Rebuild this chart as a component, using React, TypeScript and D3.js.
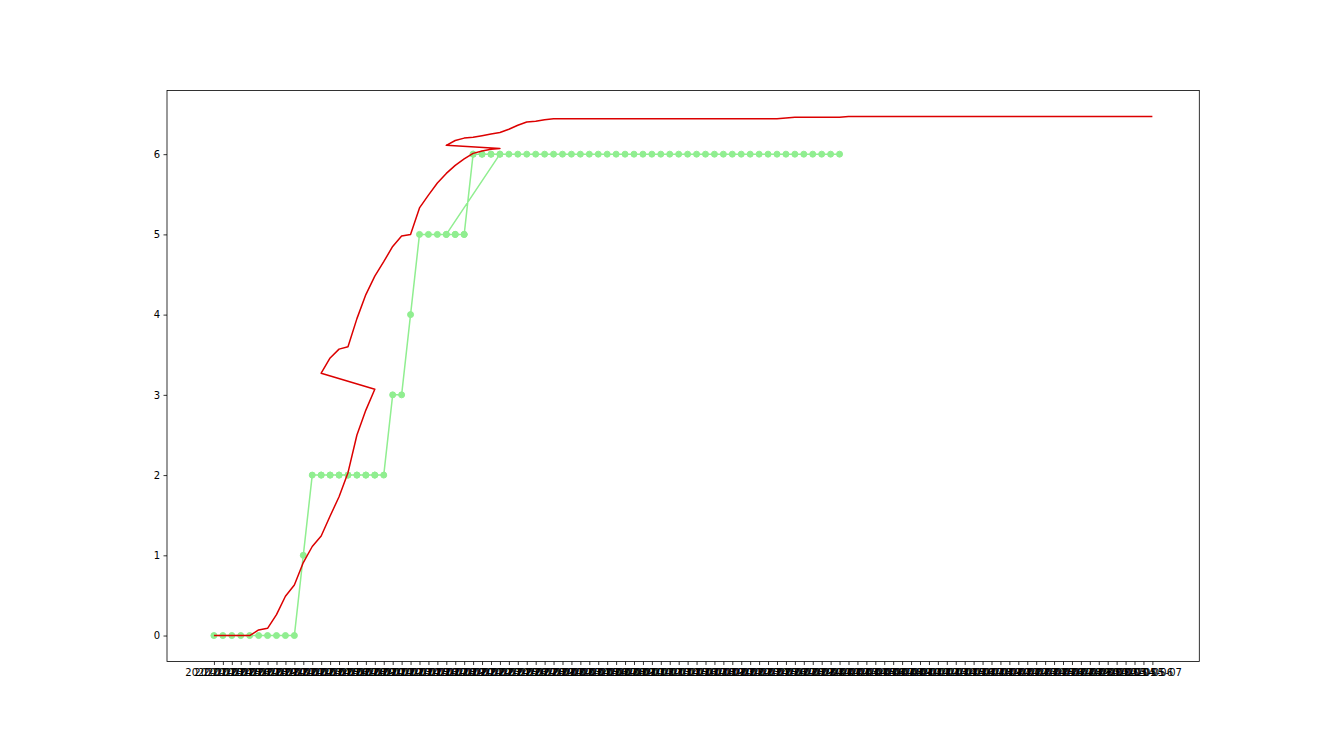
import React, { useEffect, useRef } from 'react';
import * as d3 from 'd3';

// category labels of the x axis (one tick per day)
const dates = [
  '2020-01-23', '2020-01-24', '2020-01-25', '2020-01-26', '2020-01-27', '2020-01-28', '2020-01-29', '2020-01-30', '2020-01-31',
  '2020-02-01', '2020-02-02', '2020-02-03', '2020-02-04', '2020-02-05', '2020-02-06', '2020-02-07', '2020-02-08', '2020-02-09', '2020-02-10',
  '2020-02-11', '2020-02-12', '2020-02-13', '2020-02-14', '2020-02-15', '2020-02-16', '2020-02-17', '2020-02-18', '2020-02-19', '2020-02-20',
  '2020-02-21', '2020-02-22', '2020-02-23', '2020-02-24', '2020-02-25', '2020-02-26', '2020-02-27', '2020-02-28', '2020-02-29',
  '2020-03-01', '2020-03-02', '2020-03-03', '2020-03-04', '2020-03-05', '2020-03-06', '2020-03-07', '2020-03-08', '2020-03-09', '2020-03-10',
  '2020-03-11', '2020-03-12', '2020-03-13', '2020-03-14', '2020-03-15', '2020-03-16', '2020-03-17', '2020-03-18', '2020-03-19', '2020-03-20',
  '2020-03-21', '2020-03-22', '2020-03-23', '2020-03-24', '2020-03-25', '2020-03-26', '2020-03-27', '2020-03-28', '2020-03-29', '2020-03-30',
  '2020-03-31',
  '2020-04-01', '2020-04-02', '2020-04-03', '2020-04-04', '2020-04-05', '2020-04-06', '2020-04-07', '2020-04-08', '2020-04-09', '2020-04-10',
  '2020-04-11', '2020-04-12', '2020-04-13', '2020-04-14', '2020-04-15', '2020-04-16', '2020-04-17', '2020-04-18', '2020-04-19', '2020-04-20',
  '2020-04-21', '2020-04-22', '2020-04-23', '2020-04-24', '2020-04-25', '2020-04-26', '2020-04-27', '2020-04-28', '2020-04-29', '2020-04-30',
  '2020-05-01', '2020-05-02', '2020-05-03', '2020-05-04', '2020-05-05', '2020-05-06', '2020-05-07',
];

// both series were stitched from overlapping windows, so some dates come back twice
const redDates = [...dates.slice(0, 19), ...dates.slice(12, 33), ...dates.slice(26)];
const greenDates = [...dates.slice(0, 19), ...dates.slice(12, 33), ...dates.slice(26, 71)];

const redValues = [
  // window 1
  0, 0, 0, 0, 0, 0.07, 0.09, 0.26, 0.49, 0.63, 0.91, 1.11, 1.24, 1.49, 1.73, 2.03, 2.5, 2.81, 3.07,
  // window 2
  3.27, 3.46, 3.57, 3.6, 3.95, 4.25, 4.48, 4.66, 4.85, 4.98, 5.0, 5.33, 5.49, 5.64, 5.76, 5.86, 5.94, 6.01, 6.04, 6.06, 6.07,
  // window 3
  6.11, 6.17, 6.2, 6.21, 6.23, 6.25, 6.27, 6.31, 6.36, 6.4, 6.41, 6.43,
  6.44, 6.44, 6.44, 6.44, 6.44, 6.44, 6.44, 6.44, 6.44, 6.44, 6.44, 6.44, 6.44,
  6.44, 6.44, 6.44, 6.44, 6.44, 6.44, 6.44, 6.44, 6.44, 6.44, 6.44, 6.44, 6.44,
  6.45, 6.46, 6.46, 6.46, 6.46, 6.46, 6.46,
  6.47, 6.47, 6.47, 6.47, 6.47, 6.47, 6.47, 6.47, 6.47, 6.47, 6.47, 6.47,
  6.47, 6.47, 6.47, 6.47, 6.47, 6.47, 6.47, 6.47, 6.47, 6.47, 6.47, 6.47,
  6.47, 6.47, 6.47, 6.47, 6.47, 6.47, 6.47, 6.47, 6.47, 6.47, 6.47,
];

const greenValues = [
  // window 1
  0, 0, 0, 0, 0, 0, 0, 0, 0, 0, 1, 2, 2, 2, 2, 2, 2, 2, 2,
  // window 2
  2, 2, 2, 2, 2, 2, 2, 2, 3, 3, 4, 5, 5, 5, 5, 5, 5, 6, 6, 6, 6,
  // window 3
  5, 5, 5,
  6, 6, 6, 6, 6, 6, 6, 6, 6, 6, 6, 6, 6, 6,
  6, 6, 6, 6, 6, 6, 6, 6, 6, 6, 6, 6, 6, 6,
  6, 6, 6, 6, 6, 6, 6, 6, 6, 6, 6, 6, 6, 6,
];

const yTicks = [0, 1, 2, 3, 4, 5, 6];

const WIDTH = 1332;
const HEIGHT = 756;
const box = { left: 167, right: 1199.3, top: 90.5, bottom: 661.5 };

export default function App() {
  const svgRef = useRef<SVGSVGElement>(null);

  useEffect(() => {
    if (!svgRef.current) return;
    const svg = d3.select(svgRef.current);
    svg.selectAll('*').remove();

    svg.append('rect').attr('width', WIDTH).attr('height', HEIGHT).attr('fill', '#fff');

    const x = d3.scalePoint<string>()
      .domain(dates)
      .range([box.left, box.right])
      .padding(0.05 * (dates.length - 1));

    const lo = Math.min(d3.min(redValues)!, d3.min(greenValues)!);
    const hi = Math.max(d3.max(redValues)!, d3.max(greenValues)!);
    const pad = (hi - lo) * 0.05;
    const y = d3.scaleLinear().domain([lo - pad, hi + pad]).range([box.bottom, box.top]);

    const red = redDates.map((d, i) => [d, redValues[i]] as [string, number]);
    const green = greenDates.map((d, i) => [d, greenValues[i]] as [string, number]);

    const line = d3.line<[string, number]>()
      .x(d => x(d[0])!)
      .y(d => y(d[1]));

    svg.append('path')
      .attr('d', line(green))
      .attr('fill', 'none')
      .attr('stroke', '#90ee90')
      .attr('stroke-width', 1.5)
      .attr('stroke-linejoin', 'round');

    svg.append('g').selectAll('circle')
      .data(green)
      .enter().append('circle')
      .attr('cx', d => x(d[0])!)
      .attr('cy', d => y(d[1]))
      .attr('r', 3)
      .attr('fill', '#90ee90')
      .attr('stroke', '#90ee90')
      .attr('stroke-width', 1);

    svg.append('path')
      .attr('d', line(red))
      .attr('fill', 'none')
      .attr('stroke', '#dc0000')
      .attr('stroke-width', 1.5)
      .attr('stroke-linejoin', 'round');

    // axes
    const xAxis = svg.append('g')
      .attr('transform', `translate(0,${box.bottom})`)
      .call(d3.axisBottom(x).tickSize(3.5).tickPadding(3.5));
    const yAxis = svg.append('g')
      .attr('transform', `translate(${box.left},0)`)
      .call(d3.axisLeft(y).tickValues(yTicks).tickFormat(d3.format('d')).tickSize(3.5).tickPadding(3.5));

    [xAxis, yAxis].forEach(a => {
      a.select('.domain').remove();
      a.selectAll('line').attr('stroke', '#000').attr('stroke-width', 0.8);
      a.selectAll('text')
        .attr('fill', '#000')
        .style('font-family', '"DejaVu Sans", sans-serif')
        .style('font-size', '10px');
    });

    svg.append('rect')
      .attr('x', box.left)
      .attr('y', box.top)
      .attr('width', box.right - box.left)
      .attr('height', box.bottom - box.top)
      .attr('fill', 'none')
      .attr('stroke', '#000')
      .attr('stroke-width', 0.8);
  }, []);

  return (
    <svg
      ref={svgRef}
      width={WIDTH}
      height={HEIGHT}
      style={{ position: 'absolute', left: 0, top: 0, display: 'block' }}
    />
  );
}
